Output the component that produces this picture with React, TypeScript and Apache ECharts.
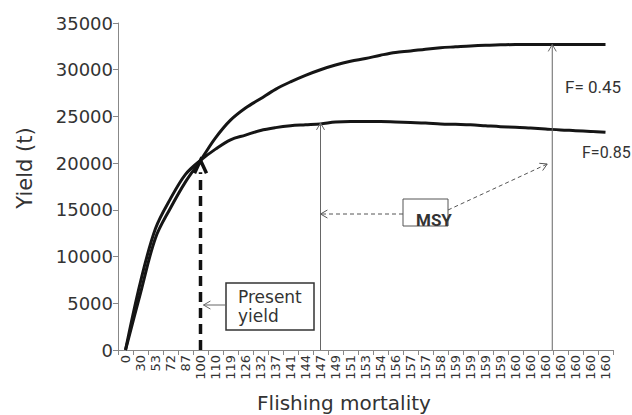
import React, { useEffect, useRef } from "react";
import * as echarts from "echarts";

const mortalityLabels = ["0","30","53","72","87","100","110","119","126","132","137","141","144","147","149","151","153","154","156","157","157","158","159","159","159","159","160","160","160","160","160","160","160"];
const yieldF045 = [0,6100,12000,15200,18000,20300,22700,24600,25900,26900,27900,28700,29400,30000,30500,30900,31200,31550,31850,32000,32200,32350,32450,32550,32620,32660,32700,32700,32700,32700,32700,32700,32700];
const yieldF085 = [0,7300,13000,16200,18800,20300,21500,22500,23000,23500,23800,24000,24100,24200,24400,24450,24450,24450,24400,24350,24300,24200,24150,24100,24000,23900,23850,23750,23650,23550,23480,23400,23300];
const yTicks = { min: 0, max: 35000, interval: 5000 };
const presentIdx = 5;
const presentYield = 20300;
const msyIdx = 13;
const msyYield = 24300;
const f045Idx = 28.45;
const f045Yield = 32700;

const DV = "'DejaVu Sans', sans-serif";
const NARROW = "Roboto, 'Liberation Sans', sans-serif";

function arrow(x1: number, y1: number, x2: number, y2: number, color: string, dashed: boolean, head = 8, lw = 1) {
  const dx = x1 - x2, dy = y1 - y2;
  const len = Math.hypot(dx, dy) || 1;
  const ux = dx / len, uy = dy / len;
  const a = Math.PI / 6;
  const r = (ang: number) => [x2 + head * (ux * Math.cos(ang) - uy * Math.sin(ang)), y2 + head * (ux * Math.sin(ang) + uy * Math.cos(ang))];
  return [
    { type: "line", z: 50, shape: { x1, y1, x2, y2 }, style: { stroke: color, lineWidth: lw, lineDash: dashed ? [4, 3] : null } },
    { type: "polyline", z: 50, shape: { points: [r(a), [x2, y2], r(-a)] }, style: { stroke: color, lineWidth: lw, fill: null } },
  ];
}

export default function App() {
  const ref = useRef<HTMLDivElement>(null);
  useEffect(() => {
    const chart = echarts.init(ref.current!, null, { renderer: "svg" });
    chart.setOption({
      animation: false,
      backgroundColor: "#ffffff",
      grid: { left: 118, right: 19, top: 23, bottom: 65, containLabel: false },
      xAxis: {
        type: "category",
        data: mortalityLabels,
        boundaryGap: true,
        axisLine: { lineStyle: { color: "#888", width: 1 } },
        axisTick: { show: true, length: 5, lineStyle: { color: "#888" }, interval: 0 },
        axisLabel: { interval: 0, rotate: 90, fontFamily: DV, fontSize: 13, color: "#333", margin: 5 },
      },
      yAxis: {
        type: "value",
        min: yTicks.min,
        max: yTicks.max,
        interval: yTicks.interval,
        splitLine: { show: false },
        axisLine: { show: true, lineStyle: { color: "#888", width: 1 } },
        axisTick: { show: true, length: 5, lineStyle: { color: "#888" } },
        axisLabel: { fontFamily: DV, fontSize: 18, color: "#333", margin: 5, formatter: (v: number) => String(v) },
      },
      series: [
        { name: "F= 0.45", type: "line", data: yieldF045, smooth: 0.35, showSymbol: false, lineStyle: { color: "#151515", width: 3 }, z: 5 },
        { name: "F=0.85", type: "line", data: yieldF085, smooth: 0.35, showSymbol: false, lineStyle: { color: "#151515", width: 3 }, z: 5 },
      ],
    });

    const px = (i: number, v: number) => {
      const lo = Math.floor(i), hi = Math.ceil(i);
      const a = chart.convertToPixel({ gridIndex: 0 }, [lo, v]) as number[];
      const b = chart.convertToPixel({ gridIndex: 0 }, [hi, v]) as number[];
      const t = i - lo;
      return [a[0] + (b[0] - a[0]) * t, a[1]];
    };

    const base = px(presentIdx, 0);
    const tip = px(presentIdx, presentYield);
    const msyBase = px(msyIdx, 0);
    const msyTip = px(msyIdx, msyYield);
    const fBase = px(f045Idx, 0);
    const fTip = px(f045Idx, f045Yield);

    const elements: any[] = [
      { type: "line", z: 40, shape: { x1: base[0], y1: base[1], x2: tip[0], y2: tip[1] + 12 }, style: { stroke: "#111", lineWidth: 3.5, lineDash: [10, 6] } },
      { type: "polyline", z: 40, shape: { points: [[tip[0] - 6, tip[1] + 13], [tip[0], tip[1]], [tip[0] + 6, tip[1] + 13]] }, style: { stroke: "#111", lineWidth: 3.5, fill: null } },
      ...arrow(msyBase[0], msyBase[1], msyTip[0], msyTip[1], "#666", false),
      ...arrow(fBase[0], fBase[1], fTip[0], fTip[1], "#666", false),
      ...arrow(403, 214, msyTip[0], 214, "#555", true),
      ...arrow(448, 210, fTip[0] - 5, 164, "#555", true),
      ...arrow(225, 305, tip[0] + 3, 305, "#666", false),
      { type: "rect", z: 45, shape: { x: 226, y: 283, width: 88, height: 47 }, style: { fill: "#fff", stroke: "#333", lineWidth: 1.5 } },
      { type: "text", z: 46, style: { text: "Present", x: 238, y: 296.5, fill: "#333", fontFamily: DV, fontSize: 17, align: "left", verticalAlign: "middle", textAlign: "left", textVerticalAlign: "middle" } },
      { type: "text", z: 46, style: { text: "yield", x: 238, y: 315.5, fill: "#333", fontFamily: DV, fontSize: 17, align: "left", verticalAlign: "middle", textAlign: "left", textVerticalAlign: "middle" } },
      { type: "rect", z: 45, shape: { x: 403, y: 199, width: 45, height: 27 }, style: { fill: "#fff", stroke: "#555", lineWidth: 1 } },
      { type: "text", z: 46, style: { text: "MSY", x: 416, y: 219.5, fill: "#333", fontFamily: NARROW, fontWeight: "bold", fontSize: 17, align: "left", verticalAlign: "middle", textAlign: "left", textVerticalAlign: "middle" } },
      { type: "text", z: 46, style: { text: "F= 0.45", x: 565, y: 87, fill: "#333", fontFamily: NARROW, fontSize: 17, align: "left", verticalAlign: "middle", textAlign: "left", textVerticalAlign: "middle" } },
      { type: "text", z: 46, style: { text: "F=0.85", x: 582, y: 152, fill: "#333", fontFamily: NARROW, fontSize: 16, align: "left", verticalAlign: "middle", textAlign: "left", textVerticalAlign: "middle" } },
      { type: "text", z: 46, x: 25, y: 168, rotation: Math.PI / 2, style: { text: "Yield (t)", x: 0, y: 0, fill: "#333", fontFamily: DV, fontSize: 21, align: "center", verticalAlign: "middle", textAlign: "center", textVerticalAlign: "middle" } },
      { type: "text", z: 46, style: { text: "Flishing mortality", x: 344, y: 403, fill: "#333", fontFamily: DV, fontSize: 20, align: "center", verticalAlign: "middle", textAlign: "center", textVerticalAlign: "middle" } },
    ];
    chart.setOption({ graphic: { elements } });
    return () => chart.dispose();
  }, []);
  return <div ref={ref} style={{ position: "fixed", left: 0, top: 0, width: 632, height: 415, background: "#fff" }} />;
}
